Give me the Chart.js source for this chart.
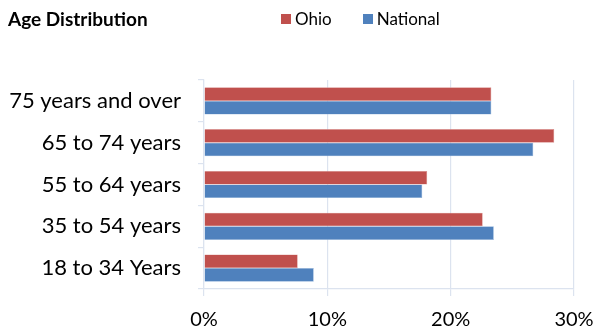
<!DOCTYPE html>
<html>
<head>
<meta charset="utf-8">
<script src="https://cdn.jsdelivr.net/npm/chart.js@4"></script>
<style>
  html, body { margin: 0; padding: 0; background: #fff; }
  #wrap { position: relative; width: 596px; height: 334px; }
  #title {
    position: absolute; left: 8px; top: 7px;
    font: bold 19px Lato, sans-serif; color: #000;
  }
  #legend {
    position: absolute; left: 281px; top: 8px;
    font: 17px Lato, sans-serif; color: #000;
    display: flex;
  }
  #legend span.item { display: flex; align-items: center; margin-right: 31px; }
  #legend span.box { width: 10px; height: 10px; margin-right: 4px; display: inline-block; }
</style>
</head>
<body>
<div id="wrap">
  <canvas id="chart" width="596" height="334"></canvas>
  <div id="title">Age Distribution</div>
  <div id="legend"></div>
</div>
<script>
const ageGroups = ['75 years and over', '65 to 74 years', '55 to 64 years', '35 to 54 years', '18 to 34 Years'];
const ohioShare = [23.3, 28.4, 18.1, 22.6, 7.6];
const nationalShare = [23.3, 26.7, 17.7, 23.5, 8.9];
const xTicks = [0, 10, 20, 30];

const gridColor = '#dce3ef';

function drawChart() {
  const chart = new Chart(document.getElementById('chart'), {
    type: 'bar',
    data: {
      labels: ageGroups,
      datasets: [
        { label: 'Ohio', data: ohioShare, backgroundColor: '#c0504d', borderColor: '#d98f8d', borderWidth: 0.6 },
        { label: 'National', data: nationalShare, backgroundColor: '#4f81bd', borderColor: '#8eb0d8', borderWidth: 0.6 },
      ],
    },
    options: {
      indexAxis: 'y',
      responsive: false,
      animation: false,
      layout: { padding: { top: 80, right: 0, left: 0, bottom: 0 } },
      datasets: { bar: { categoryPercentage: 0.65, barPercentage: 1 } },
      plugins: { legend: { display: false }, tooltip: { enabled: false } },
      scales: {
        x: {
          min: xTicks[0],
          max: xTicks[xTicks.length - 1],
          afterBuildTicks(scale) { scale.ticks = xTicks.map((v) => ({ value: v })); },
          ticks: {
            callback: (v) => v + '%',
            color: '#000',
            font: { family: 'Lato', size: 20 },
            padding: 12,
          },
          grid: { color: gridColor, lineWidth: 1.2, tickLength: 7 },
          border: { color: gridColor, width: 1.2 },
          afterFit(scale) {
            scale.height = 45;
            // keep the 30% line at a fixed gap from the right edge
            scale.paddingRight = 22;
            scale.paddingLeft = 0;
          },
        },
        y: {
          ticks: {
            color: '#000',
            font: { family: 'Lato', size: 22 },
            padding: 17,
          },
          grid: { drawOnChartArea: false, color: gridColor, lineWidth: 1.2, tickLength: 6 },
          border: { color: gridColor, width: 1.2 },
          afterFit(scale) { scale.width = 204; },
        },
      },
    },
  });

  // legend built from the datasets
  const legendEl = document.getElementById('legend');
  chart.data.datasets.forEach((ds) => {
    const item = document.createElement('span');
    item.className = 'item';
    const box = document.createElement('span');
    box.className = 'box';
    box.style.background = ds.backgroundColor;
    item.appendChild(box);
    item.appendChild(document.createTextNode(ds.label));
    legendEl.appendChild(item);
  });
}

document.fonts.load('22px Lato').then(drawChart, drawChart);
</script>
</body>
</html>
